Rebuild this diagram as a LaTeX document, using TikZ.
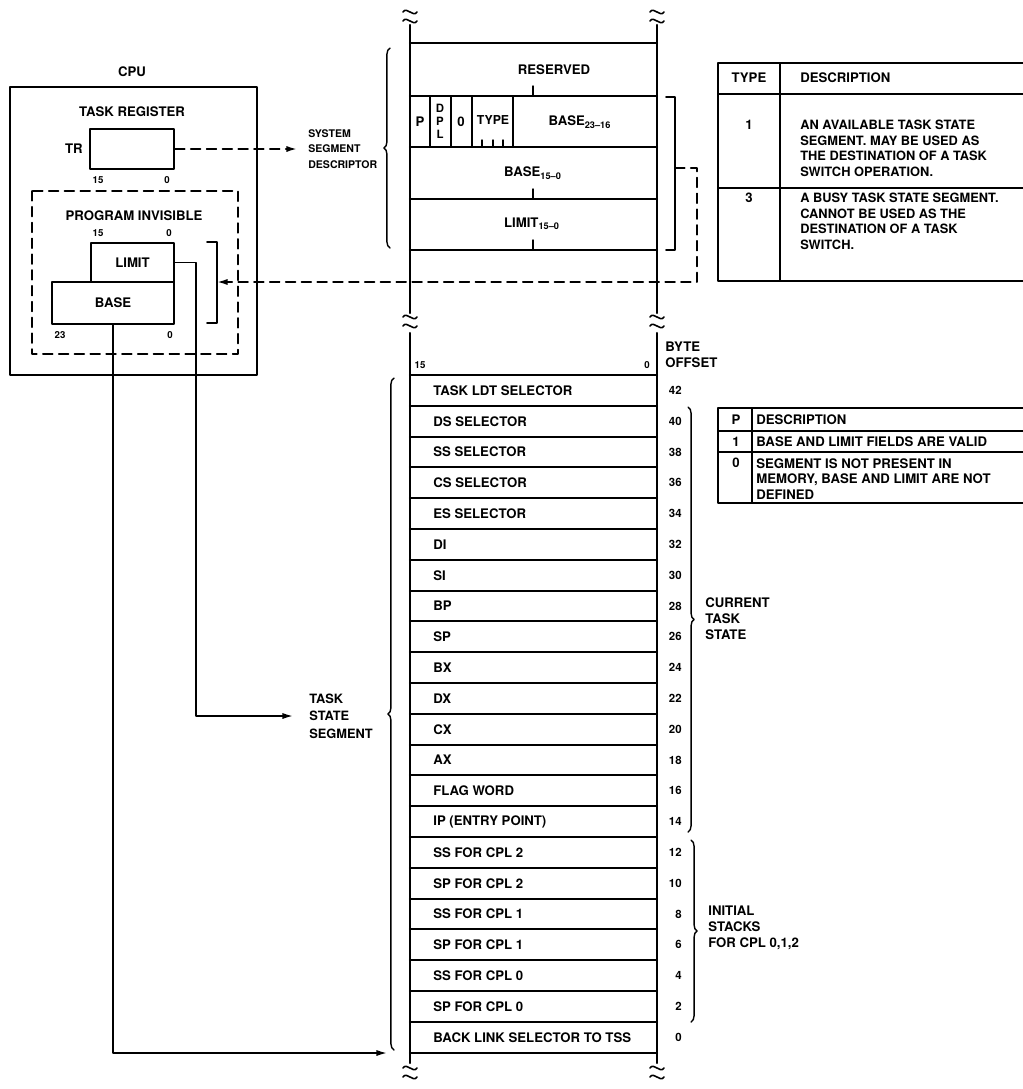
\documentclass[tikz,border=0pt]{standalone}
\usepackage{fontspec}
\setmainfont{TeX Gyre Heros}
\usetikzlibrary{arrows.meta,decorations.pathreplacing}

\begin{document}
\begin{tikzpicture}[x=0.02cm,y=-0.02cm,line cap=round,line join=round,
  every node/.style={font=\bfseries\fontsize{7.5}{9}\selectfont,inner sep=0pt},
  lbl/.style={font=\bfseries\fontsize{6}{9}\selectfont},
  bitno/.style={font=\bfseries\fontsize{5.5}{6}\selectfont},
  num/.style={font=\bfseries\fontsize{6.5}{7}\selectfont},
  reg/.style={draw,line width=1.2pt,minimum width=1.66cm,minimum height=0.78cm},
  dsh/.style={dash pattern=on 5.5pt off 3.5pt},
  brc/.style={decorate,decoration={brace,amplitude=3.5pt,aspect=0.5}},
  arr/.style={-{Latex[length=6pt,width=3.5pt]}}]
  \useasboundingbox (0,0) rectangle (1023,1089);

  \draw[line width=1.2pt] (410,25) -- (410,313) (410,333) -- (410,1063);
  \draw[line width=1.2pt] (657,25) -- (657,313) (657,333) -- (657,1063);
  \foreach \x in {410,657}
    \foreach \y in {12,21,317,326,1068,1077}
      \draw[line width=0.9pt] ({\x-7},\y) .. controls ({\x-3},{\y-6}) and ({\x+3},{\y+6}) .. ({\x+7},\y);

  \draw[line width=1.2pt] (410,43) -- (657,43);
  \draw[line width=1.2pt] (410,96) -- (657,96);
  \draw[line width=1.2pt] (410,147) -- (657,147);
  \draw[line width=1.2pt] (410,199) -- (657,199);
  \draw[line width=1.2pt] (410,250) -- (657,250);
  \draw[line width=0.8pt] (533,86) -- (533,96);
  \draw[line width=0.8pt] (533,189) -- (533,199);
  \draw[line width=0.8pt] (533,240) -- (533,250);
  \foreach \x in {430,451,472,513}
    \draw[line width=0.9pt] (\x,96) -- (\x,147);
  \foreach \x in {482,493,503}
    \draw[line width=0.8pt] (\x,140) -- (\x,147);
  \node (resv) at (554,70) {RESERVED};
  \node (pbit) at (420,122) {P};
  \node[align=center,font=\bfseries\fontsize{6.5}{7.4}\selectfont] (dpl) at (440,121) {D\\P\\L};
  \node (zbit) at (461,122) {0};
  \node[font=\bfseries\fontsize{7}{8}\selectfont] (type) at (493,120) {TYPE};
  \node (bhi) at (580,122) {BASE\textsubscript{23--16}};
  \node (blo) at (533,173) {BASE\textsubscript{15--0}};
  \node (lim) at (532,224) {LIMIT\textsubscript{15--0}};

  \draw[line width=1pt] (666,97) -- (675,97) -- (675,250) -- (666,250);
  \coordinate (descbr) at (675,168);
  \coordinate (cpubr) at (217,282);
  \draw[dsh,line width=1pt,arr] (descbr) -- (697,168) -- (697,282) -- (cpubr);

  \draw[brc,line width=0.8pt] (390,248) -- (390,48);
  \node[lbl,align=left,anchor=west] (ssd) at (308,149) {SYSTEM\\SEGMENT\\DESCRIPTOR};

  \node (cpu) at (132,72) {CPU};
  \draw[line width=1.3pt] (10,87) rectangle (257,375);
  \node (treg) at (132,112) {TASK REGISTER};
  \node[reg,minimum width=1.68cm,minimum height=0.8cm] (tr) at (132,149) {};
  \node[anchor=east] (trl) at (83,149) {TR};
  \node[bitno] at (98,180) {15};
  \node[bitno] at (167,180) {0};
  \draw[dsh,line width=1pt] (32,191) rectangle (238,354);
  \node (pinv) at (134,216) {PROGRAM INVISIBLE};
  \node[bitno] at (98,233) {15};
  \node[bitno] at (169,233) {0};
  \node[reg] (limit) at (132.5,262.5) {LIMIT};
  \node[reg,minimum width=2.44cm,minimum height=0.84cm] (base) at (113,303) {BASE};
  \node[bitno] at (60,335) {23};
  \node[bitno] at (170,335) {0};
  \draw[line width=1pt] (207,242) -- (217,242) -- (217,323) -- (207,323);

  \draw[dsh,line width=1pt,arr] (tr.east) -- ([xshift=-0.22cm]ssd.west);

  \node[anchor=west,align=left,font=\bfseries\fontsize{7.3}{10}\selectfont] (tss) at (309,716) {TASK\\STATE\\SEGMENT};
  \draw[line width=0.9pt,arr] (limit.east) -- ++(21,0) |- ([xshift=-0.32cm]tss.west);
  \coordinate (tssend) at (387,1053);
  \draw[line width=0.9pt,arr] (base.south) |- (tssend);
  \draw[brc,line width=0.8pt] (394,1050) -- (394,378);

  \node[bitno] at (420,365) {15};
  \node[bitno] at (647,365) {0};
  \node[anchor=west,align=left] (bofs) at (665,355) {BYTE\\OFFSET};
  \draw[line width=1.2pt] (410,375) -- (657,375);
  \foreach \txt/\off [count=\i from 0] in {TASK LDT SELECTOR/42,DS SELECTOR/40,SS SELECTOR/38,CS SELECTOR/36,ES SELECTOR/34,DI/32,SI/30,BP/28,SP/26,BX/24,DX/22,CX/20,AX/18,FLAG WORD/16,IP (ENTRY POINT)/14,SS FOR CPL 2/12,SP FOR CPL 2/10,SS FOR CPL 1/8,SP FOR CPL 1/6,SS FOR CPL 0/4,SP FOR CPL 0/2,BACK LINK SELECTOR TO TSS/0} {
    \node[anchor=west] (row\i) at (433,{390.4+30.8*\i}) {\txt};
    \node[num,anchor=east] (off\i) at (682,{390.4+30.8*\i}) {\off};
    \draw[line width=1.2pt] (410,{405.8+30.8*\i}) -- (657,{405.8+30.8*\i});
  }

  \draw[brc,line width=0.8pt] (688,407) -- (688,832);
  \node[anchor=west,align=left] (cts) at (705,619) {CURRENT\\TASK\\STATE};
  \draw[brc,line width=0.8pt] (691,840) -- (691,1022);
  \node[anchor=west,align=left] (istk) at (708,928) {INITIAL\\STACKS\\FOR CPL 0,1,2};

  \draw[line width=1pt] (1023,63) -- (718,63) -- (718,281) -- (1023,281);
  \draw[line width=1pt] (718,94) -- (1023,94);
  \draw[line width=1pt] (718,188) -- (1023,188);
  \draw[line width=1pt] (780,63) -- (780,281);
  \node (thd) at (749,78) {TYPE};
  \node[anchor=west] (dhd) at (800,78) {DESCRIPTION};
  \node (tone) at (749,125) {1};
  \node[anchor=north west,align=left,font=\bfseries\fontsize{7.3}{8.8}\selectfont] (done) at (800,120) {AN AVAILABLE TASK STATE\\SEGMENT. MAY BE USED AS\\THE DESTINATION OF A TASK\\SWITCH OPERATION.};
  \node (tthree) at (749,198) {3};
  \node[anchor=north west,align=left,font=\bfseries\fontsize{7.3}{8.8}\selectfont] (dthree) at (800,193) {A BUSY TASK STATE SEGMENT.\\CANNOT BE USED AS THE\\DESTINATION OF A TASK\\SWITCH.};

  \draw[line width=1pt] (1023,408) -- (718,408) -- (718,503) -- (1023,503);
  \draw[line width=1pt] (718,431) -- (1023,431);
  \draw[line width=1pt] (718,452) -- (1023,452);
  \draw[line width=1pt] (752,408) -- (752,503);
  \node (phd) at (736,420) {P};
  \node[anchor=west] (pdhd) at (756,420) {DESCRIPTION};
  \node (pone) at (736,442) {1};
  \node[anchor=west] (pdone) at (756,442) {BASE AND LIMIT FIELDS ARE VALID};
  \node (pzero) at (736,463) {0};
  \node[anchor=north west,align=left,font=\bfseries\fontsize{7.5}{8.8}\selectfont] (pdzero) at (756,458) {SEGMENT IS NOT PRESENT IN\\MEMORY, BASE AND LIMIT ARE NOT\\DEFINED};
\end{tikzpicture}
\end{document}
